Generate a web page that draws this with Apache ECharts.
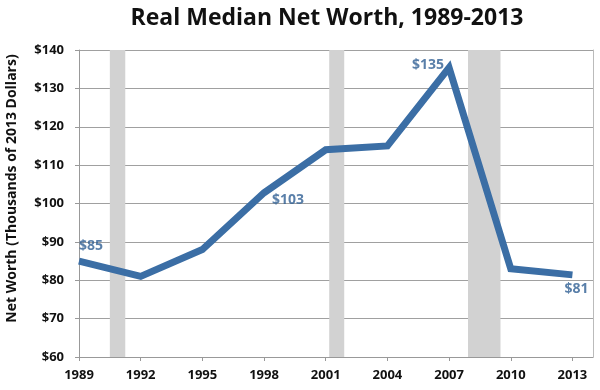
<!DOCTYPE html>
<html><head><meta charset="utf-8">
<script src="https://cdn.jsdelivr.net/npm/echarts@6/dist/echarts.min.js"></script>
<style>html,body{margin:0;padding:0;background:#fff}#c{width:600px;height:390px}</style>
</head><body><div id="c"></div>
<script>
const years = [1989, 1992, 1995, 1998, 2001, 2004, 2007, 2010, 2013];
const netWorth = [85, 81, 88, 102.8, 114, 115, 135.4, 83, 81.4];
const labeledYears = [1989, 1998, 2007, 2013];
const recessionStarts = [1990.5, 2001.17, 2007.92];
const recessionEnds = [1991.25, 2001.9, 2009.5];
const yTicks = [60, 70, 80, 90, 100, 110, 120, 130, 140];

const FONT = 'Open Sans';
const labelOffset = {1989: [12, -15], 1998: [24, 7], 2007: [-21, -3], 2013: [4, 14]};
const labelPoints = years
  .map((y, i) => ({value: [y, netWorth[i]], label: {offset: labelOffset[y]}}))
  .filter(d => labeledYears.includes(d.value[0]));

const chart = echarts.init(document.getElementById('c'));
chart.setOption({
  animation: false,
  title: {text: 'Real Median Net Worth, 1989-2013', left: 322, top: 2, textAlign: 'center',
    textStyle: {fontFamily: FONT, fontWeight: 'bold', fontSize: 23, color: '#111'}},
  grid: {left: 79, right: 7, top: 50, bottom: 33, containLabel: false, outerBoundsMode: 'none'},
  xAxis: {type: 'value', min: 1989, max: 2014, interval: 3,
    axisLine: {show: true, lineStyle: {color: '#999'}},
    axisTick: {show: true, length: 4, lineStyle: {color: '#999'}},
    splitLine: {show: false},
    axisLabel: {showMaxLabel: false, margin: 12, fontFamily: FONT, fontWeight: 'bold', fontSize: 13, color: '#111',
      formatter: v => ((v - 1989) % 3 === 0 ? String(v) : '')}},
  yAxis: [{type: 'value', min: yTicks[0], max: yTicks[yTicks.length - 1], interval: 10,
    name: 'Net Worth (Thousands of 2013 Dollars)', nameLocation: 'middle', nameGap: 60,
    nameTextStyle: {fontFamily: FONT, fontWeight: 'bold', fontSize: 14, color: '#111', padding: [0, 0, 0, 30]},
    axisLine: {show: true, lineStyle: {color: '#999'}},
    axisTick: {show: true, length: 4, lineStyle: {color: '#999'}},
    splitLine: {show: true, lineStyle: {color: '#a0a0a0', width: 1}},
    axisLabel: {margin: 15, fontFamily: FONT, fontWeight: 'bold', fontSize: 13, color: '#111', formatter: v => '$' + v}},
    {type: 'value', position: 'right', min: 60, max: 140, axisLine: {show: true, lineStyle: {color: '#bbb'}},
      axisLabel: {show: false}, axisTick: {show: false}, splitLine: {show: false}}],
  series: [{
    type: 'line', data: years.map((y, i) => [y, netWorth[i]]), symbol: 'none', z: 5,
    lineStyle: {color: '#3b6ea5', width: 7, join: 'miter'},
    markArea: {silent: true, itemStyle: {color: '#d2d2d2'},
      data: recessionStarts.map((s, i) => [{xAxis: s}, {xAxis: recessionEnds[i]}])}
  }, {
    type: 'scatter', data: labelPoints, symbolSize: 1, z: 6,
    itemStyle: {color: 'rgba(0,0,0,0)'},
    label: {show: true, position: 'inside', fontFamily: FONT, fontWeight: 'bold', fontSize: 14, color: '#2f5f93',
      formatter: p => '$' + Math.round(p.value[1])}
  }]
});
</script></body></html>
